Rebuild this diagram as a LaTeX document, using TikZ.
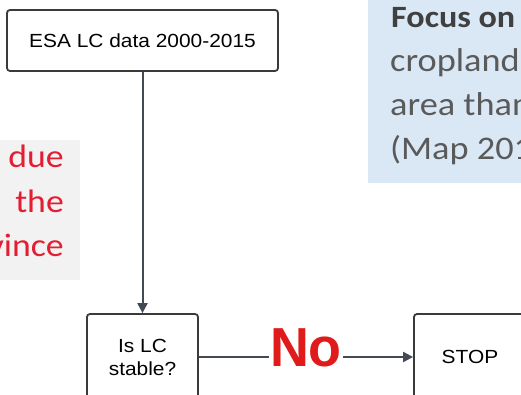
\documentclass[tikz,border=0pt]{standalone}
\usepackage{fontspec}
\usepackage{graphicx}
\setmainfont{Liberation Sans}
\newfontfamily\calib{Carlito}
\usetikzlibrary{arrows.meta}
\definecolor{boxline}{HTML}{3A3A3A}
\definecolor{connline}{HTML}{434A54}
\definecolor{graybg}{HTML}{F2F2F2}
\definecolor{bluebg}{HTML}{DAE8F5}
\definecolor{redtxt}{HTML}{E31E32}
\definecolor{notxt}{HTML}{E01B1B}
\definecolor{darktxt}{HTML}{404040}
\definecolor{greytxt}{HTML}{5A5A5A}
\newcommand\sx[1]{\scalebox{1.1}[1]{#1}}
\tikzset{
  fbox/.style={draw=boxline, line width=1.8pt, rounded corners=3pt, fill=white,
    font=\fontsize{19}{23}\selectfont, align=center, text=black, inner sep=0pt},
  conn/.style={draw=connline, line width=2pt},
  arr/.style={conn, -{Triangle[length=10pt,width=10pt]}},
  redline/.style={font=\calib\fontsize{32.5}{38}\selectfont, text=redtxt, inner sep=0pt, anchor=base east},
  blueline/.style={font=\calib\fontsize{33}{38}\selectfont, text=greytxt, inner sep=0pt, anchor=base west},
}
\begin{document}
\begin{tikzpicture}[x=1pt,y=-1pt]
\useasboundingbox (0,0) rectangle (521,395);
\clip (0,0) rectangle (521,395);
% background panels
\fill[graybg] (0,140) rectangle (80,280);
\fill[bluebg] (368,0) rectangle (521,183);
% red text
\node[redline] (r1) at (64,168) {\sx{due}};
\node[redline] (r2) at (64,212) {\sx{the}};
\node[redline] (r3) at (64,256) {\sx{vince}};
% blue panel text
\node[blueline, text=darktxt, font=\calib\bfseries\fontsize{31}{38}\selectfont] (b1) at (391,28) {\sx{Focus on}};
\node[blueline] (b2) at (390,72) {\sx{cropland}};
\node[blueline] (b3) at (390,116) {\sx{area than}};
\node[blueline] (b4) at (390,160) {\sx{(Map 2015}};
% flowchart
\node[fbox, minimum width=271pt, minimum height=61pt] (esa) at (142.5,40.5) {\sx{ESA LC data 2000-2015}};
\node[fbox, minimum width=111pt, minimum height=86pt] (islc) at (142.5,357) {\sx{Is LC}\\\sx{stable?}};
\node[fbox, minimum width=112pt, minimum height=86pt] (stop) at (470,357) {\sx{STOP}};
\node[font=\bfseries\fontsize{55}{60}\selectfont, text=notxt, inner sep=0pt, inner xsep=1pt] (no) at (306,348) {\scalebox{0.98}[1]{No}};
\draw[arr] (esa.south) -- (islc.north);
\draw[conn] (islc.east) -- (islc.east -| no.west);
\draw[arr] (no.east |- stop.west) -- (stop.west);
\end{tikzpicture}
\end{document}
